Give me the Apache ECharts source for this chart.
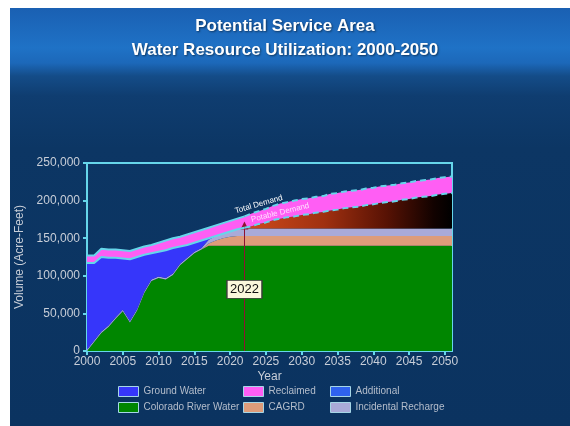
<!DOCTYPE html>
<html>
<head>
<meta charset="utf-8">
<script src="https://cdn.jsdelivr.net/npm/echarts@6/dist/echarts.min.js"></script>
<style>
html, body { margin: 0; padding: 0; background: #fff; }
#slide {
  position: absolute; left: 10px; top: 8px; width: 560px; height: 418px;
  background: linear-gradient(180deg, #1a60b2 0px, #1f72c6 40px, #1c68b9 55px, #144c88 68px, #0f3d70 88px, #0c3664 140px, #0b3360 100%);
}
#chart { position: absolute; left: 0; top: 0; width: 570px; height: 426px; }
</style>
</head>
<body>
<div id="slide"></div>
<div id="chart"></div>
<script>
// values in thousand acre-feet
var years = ['2000', '2001', '2002', '2003', '2004', '2005', '2006', '2007', '2008', '2009',
  '2010', '2011', '2012', '2013', '2014', '2015', '2016', '2017', '2018', '2019',
  '2020', '2021', '2022', '2023', '2024', '2025', '2026', '2027', '2028', '2029',
  '2030', '2031', '2032', '2033', '2034', '2035', '2036', '2037', '2038', '2039',
  '2040', '2041', '2042', '2043', '2044', '2045', '2046', '2047', '2048', '2049',
  '2050', '2051'];

var coloradoRiver = [0, 12, 24, 32, 43, 53, 38, 54, 77, 93,
  97, 95, 101, 114, 122, 130, 135, 140, 140, 140,
  140, 140, 140, 140, 140, 140, 140, 140, 140, 140,
  140, 140, 140, 140, 140, 140, 140, 140, 140, 140,
  140, 140, 140, 140, 140, 140, 140, 140, 140, 140,
  140, 140];

var cagrd = [0, 0, 0, 0, 0, 0, 0, 0, 0, 0,
  0, 0, 0, 0, 0, 0, 0, 3, 7, 10,
  12, 13, 13, 13, 13, 13, 13, 13, 13, 13,
  13, 13, 13, 13, 13, 13, 13, 13, 13, 13,
  13, 13, 13, 13, 13, 13, 13, 13, 13, 13,
  13, 13];

var incidental = [2, 2, 2, 2, 2, 2, 2, 2, 2, 2,
  2, 2, 2, 2, 2, 2, 2, 5, 6, 6,
  7, 9, 10, 10, 10, 10, 10, 10, 10, 10,
  10, 10, 10, 10, 10, 10, 10, 10, 10, 10,
  10, 10, 10, 10, 10, 10, 10, 10, 10, 10,
  10, 10];

var groundWater = [115, 103, 99, 90, 79, 68, 82, 69, 49, 35,
  33, 37, 34, 23, 17, 12, 10, 2, 0, 0,
  0, 0, 0, 0, 0, 0, 0, 0, 0, 0,
  0, 0, 0, 0, 0, 0, 0, 0, 0, 0,
  0, 0, 0, 0, 0, 0, 0, 0, 0, 0,
  0, 0];

var additional = [0, 0, 0, 0, 0, 0, 0, 0, 0, 0,
  0, 0, 0, 0, 0, 0, 0, 0, 0, 0,
  0, 0, 1, 3, 6, 8, 11, 13, 15, 16,
  18, 19, 21, 22, 24, 25, 27, 28, 29, 31,
  32, 34, 35, 36, 38, 39, 41, 42, 43, 45,
  46, 47];

var reclaimed = [10, 10, 11, 11, 11, 11, 11, 11, 11, 11,
  12, 13, 13, 13, 14, 14, 14, 14, 14, 14,
  14, 14, 15, 17, 17, 18, 19, 20, 20, 21,
  21, 21, 21, 21, 22, 22, 22, 22, 22, 22,
  22, 22, 22, 22, 22, 22, 22, 22, 22, 22,
  22, 22];

var yTicks = [0, 50000, 100000, 150000, 200000, 250000];
var markYear = '2022';

var cyan = '#66d6ea';

function af(arr) {
  return arr.map(function (v) { return v * 1000; });
}

// demand outlines = top of the stacked layers
var potableDemand = years.map(function (y, i) {
  return coloradoRiver[i] + cagrd[i] + incidental[i] + groundWater[i] + additional[i];
});
var totalDemand = potableDemand.map(function (v, i) { return v + reclaimed[i]; });

var markIdx = years.indexOf(markYear);
function upTo(arr) { return af(arr).map(function (v, i) { return i <= markIdx ? v : null; }); }
function after(arr) { return af(arr).map(function (v, i) { return i >= markIdx ? v : null; }); }

function areaSeries(name, data, color, extra) {
  var s = {
    name: name,
    type: 'line',
    stack: 'water',
    data: af(data),
    symbol: 'none',
    lineStyle: { width: 0 },
    itemStyle: { color: color },
    areaStyle: { color: color, opacity: 1 }
  };
  if (extra) {
    for (var k in extra) s[k] = extra[k];
  }
  return s;
}

function demandLine(name, data, dashed) {
  return {
    name: name,
    type: 'line',
    data: data,
    symbol: 'none',
    z: 5,
    lineStyle: { color: cyan, width: 2, type: dashed ? [6, 4] : 'solid' }
  };
}

var additionalFill = new echarts.graphic.LinearGradient(0, 0, 1, 0, [
  { offset: 0, color: '#c8481a' },
  { offset: 0.46, color: '#c8481a' },
  { offset: 0.65, color: '#a03010' },
  { offset: 0.82, color: '#581204' },
  { offset: 0.95, color: '#120200' },
  { offset: 1, color: '#000000' }
]);

var labelColor = '#c8ced8';
var font = 'Liberation Sans, Arial, sans-serif';

var legendBase = {
  orient: 'vertical',
  top: 381,
  itemWidth: 20,
  itemHeight: 10,
  itemGap: 5,
  icon: 'rect',
  selectedMode: false,
  itemStyle: { borderColor: '#a6d6e6', borderWidth: 1 },
  textStyle: { color: '#b4bdcb', fontSize: 10, fontFamily: font }
};

var chart = echarts.init(document.getElementById('chart'));
var option = {
  animation: false,
  backgroundColor: 'transparent',
  title: {
    text: 'Potential Service Area\nWater Resource Utilization: 2000-2050',
    left: 'center',
    top: 9,
    textStyle: {
      color: '#ffffff', fontSize: 17, fontWeight: 'bold', lineHeight: 24,
      fontFamily: font, align: 'center',
      textShadowColor: 'rgba(0,0,0,0.5)', textShadowBlur: 2, textShadowOffsetX: 1, textShadowOffsetY: 1
    }
  },
  legend: [
    Object.assign({}, legendBase, { left: 113, data: ['Ground Water', 'Colorado River Water'] }),
    Object.assign({}, legendBase, { left: 238, data: ['Reclaimed', 'CAGRD'] }),
    Object.assign({}, legendBase, {
      left: 325,
      data: [{ name: 'Additional', itemStyle: { color: '#2f62ee' } }, 'Incidental Recharge']
    })
  ],
  grid: {
    left: 87, right: 118, top: 163, bottom: 75,
    show: true, borderColor: cyan, borderWidth: 2, backgroundColor: 'transparent'
  },
  xAxis: {
    type: 'category',
    data: years,
    boundaryGap: false,
    name: 'Year',
    nameLocation: 'middle',
    nameGap: 20,
    nameTextStyle: { color: labelColor, fontSize: 12, fontFamily: font },
    axisLine: { lineStyle: { color: cyan, width: 2 } },
    axisTick: { length: 4, interval: 4, lineStyle: { color: cyan, width: 2 } },
    splitLine: { show: false },
    axisLabel: { color: labelColor, fontSize: 12, margin: 5, fontFamily: font, interval: 4 }
  },
  yAxis: {
    type: 'value',
    min: yTicks[0], max: yTicks[yTicks.length - 1], interval: yTicks[1] - yTicks[0],
    name: 'Volume (Acre-Feet)',
    nameLocation: 'middle',
    nameGap: 58,
    nameTextStyle: { color: labelColor, fontSize: 12, fontFamily: font },
    axisLine: { show: true, lineStyle: { color: cyan, width: 2 } },
    axisTick: { show: true, length: 4, lineStyle: { color: cyan, width: 2 } },
    splitLine: { show: false },
    axisLabel: {
      color: labelColor, fontSize: 12, margin: 7, fontFamily: font,
      formatter: function (v) { return String(v).replace(/\B(?=(\d{3})+(?!\d))/g, ','); }
    }
  },
  series: [
    areaSeries('Colorado River Water', coloradoRiver, '#008600', {
      markLine: {
        silent: true,
        symbol: ['none', 'triangle'],
        symbolSize: 8,
        label: { show: false },
        lineStyle: { color: '#8e1232', width: 1, type: 'solid' },
        data: [[{ coord: [markYear, 0] }, { coord: [markYear, 167000] }]]
      },
      markPoint: {
        silent: true,
        data: [{
          coord: [markYear, 82000],
          symbol: 'rect',
          symbolSize: [35, 18],
          itemStyle: { color: '#fbf8dc', borderColor: '#3a3a3a', borderWidth: 1 },
          label: { show: true, position: 'inside', formatter: markYear, color: '#111', fontSize: 13, fontFamily: font }
        }]
      }
    }),
    areaSeries('CAGRD', cagrd, '#de9c7a'),
    areaSeries('Incidental Recharge', incidental, '#aaaad8'),
    areaSeries('Ground Water', groundWater, '#3636fa'),
    areaSeries('Additional', additional, '#2f62ee', { areaStyle: { color: additionalFill, opacity: 1 } }),
    areaSeries('Reclaimed', reclaimed, '#ff5ef4'),
    demandLine('Potable Demand', upTo(potableDemand), false),
    demandLine('Potable Demand (proj)', after(potableDemand), true),
    demandLine('Total Demand', upTo(totalDemand), false),
    demandLine('Total Demand (proj)', after(totalDemand), true)
  ]
};
chart.setOption(option);

// line labels placed through the chart's own scales
var totalPos = chart.convertToPixel({ gridIndex: 0 }, ['2024', 195000]);
var potablePos = chart.convertToPixel({ gridIndex: 0 }, ['2027', 184000]);
chart.setOption({
  graphic: [
    {
      type: 'text', x: totalPos[0], y: totalPos[1], rotation: 16 * Math.PI / 180, z: 10,
      style: { text: 'Total Demand', fill: '#ffffff', fontSize: 8, fontFamily: font, align: 'center', verticalAlign: 'middle' }
    },
    {
      type: 'text', x: potablePos[0], y: potablePos[1], rotation: 14 * Math.PI / 180, z: 10,
      style: { text: 'Potable Demand', fill: '#ffe0ff', fontSize: 8, fontFamily: font, align: 'center', verticalAlign: 'middle' }
    }
  ]
});
</script>
</body>
</html>
